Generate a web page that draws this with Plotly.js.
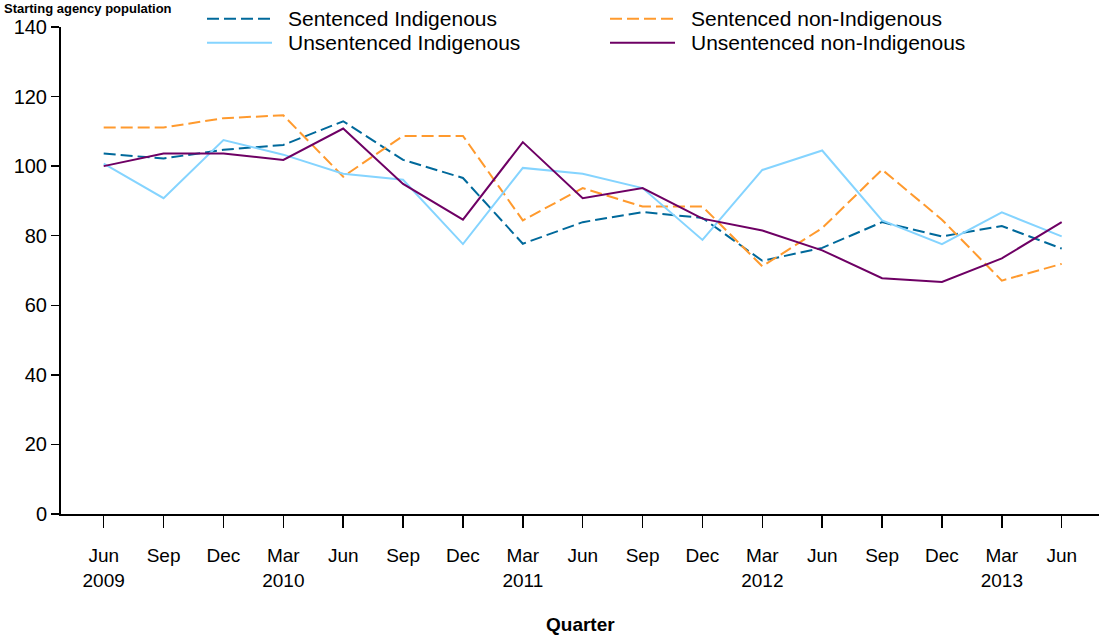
<!DOCTYPE html>
<html><head><meta charset="utf-8">
<script src="https://cdn.plot.ly/plotly-3.0.1.min.js"></script>
<style>html,body{margin:0;padding:0;background:#fff;overflow:hidden}</style>
</head><body><div id="chart" style="width:1099px;height:639px"></div>
<script>
const quarters = ['Jun 2009','Sep 2009','Dec 2009','Mar 2010','Jun 2010','Sep 2010','Dec 2010','Mar 2011','Jun 2011','Sep 2011','Dec 2011','Mar 2012','Jun 2012','Sep 2012','Dec 2012','Mar 2013','Jun 2013'];
const tickLabels = ['Jun<br>2009','Sep','Dec','Mar<br>2010','Jun','Sep','Dec','Mar<br>2011','Jun','Sep','Dec','Mar<br>2012','Jun','Sep','Dec','Mar<br>2013','Jun'];
const sentencedIndigenous = [103.6, 102.2, 104.7, 106.1, 112.9, 101.8, 96.6, 77.7, 83.9, 86.8, 85.1, 72.8, 76.5, 83.9, 79.8, 82.8, 76.3];
const sentencedNonIndigenous = [111.1, 111.1, 113.8, 114.6, 97.0, 108.7, 108.7, 84.4, 93.7, 88.4, 88.4, 71.2, 82.2, 99.0, 84.6, 67.1, 71.9];
const unsentencedIndigenous = [100.7, 90.8, 107.5, 103.3, 97.8, 96.1, 77.6, 99.5, 97.8, 93.7, 78.8, 98.9, 104.5, 84.4, 77.6, 86.7, 79.8];
const unsentencedNonIndigenous = [100.0, 103.6, 103.6, 101.8, 110.8, 94.9, 84.6, 106.9, 90.8, 93.7, 84.9, 81.5, 75.8, 67.8, 66.7, 73.5, 83.9];
const seriesNames = ['Sentenced Indigenous','Sentenced non-Indigenous','Unsentenced Indigenous','Unsentenced non-Indigenous'];
const yTicks = [0,20,40,60,80,100,120,140];
const chartTitle = 'Starting agency population';

const FONT = 'Liberation Sans, Arial, sans-serif';
const styles = [
  {color:'#00699B', dash:'12px,5px'},
  {color:'#FF9A2E', dash:'12px,5px'},
  {color:'#85D4FF', dash:'solid'},
  {color:'#6E0064', dash:'solid'}
];
const seriesData = [sentencedIndigenous, sentencedNonIndigenous, unsentencedIndigenous, unsentencedNonIndigenous];

const traces = seriesData.map((ys, i) => ({
  type:'scatter', mode:'lines', x: quarters, y: ys, name: seriesNames[i],
  line:{color:styles[i].color, width:2, dash:styles[i].dash},
  showlegend:false, hoverinfo:'x+y+name'
}));

// legend (manual, to match long line samples)
const W = 1038, H = 487, L = 61, T = 27.3;
const px = v => (v - L) / W;
const py = v => (T + H - v) / H;
const legendPos = [
  {x0:207, x1:272, tx:286, y:19},
  {x0:610, x1:675, tx:689, y:19},
  {x0:207, x1:272, tx:286, y:43},
  {x0:610, x1:675, tx:689, y:43}
];
const shapes = legendPos.map((p, i) => ({
  type:'line', xref:'paper', yref:'paper', x0:px(p.x0), x1:px(p.x1), y0:py(p.y), y1:py(p.y),
  line:{color:styles[i].color, width:2, dash:styles[i].dash}
}));
const annotations = legendPos.map((p, i) => ({
  xref:'paper', yref:'paper', x:px(p.tx), y:py(p.y), xanchor:'left', yanchor:'middle',
  text: seriesNames[i], showarrow:false, font:{family:FONT, size:21, color:'#000'}
}));
annotations.push({
  xref:'paper', yref:'paper', x:0.5, y:py(625), xanchor:'center', yanchor:'middle',
  text:'Quarter', showarrow:false, font:{family:FONT, size:19, color:'#000', weight:'bold'}
});
// chart title at the top-left corner
annotations.push({
  xref:'paper', yref:'paper', x:px(3), y:py(9), xanchor:'left', yanchor:'middle', borderpad:0,
  text: chartTitle, showarrow:false, font:{family:FONT, size:13, color:'#000', weight:'bold'}
});

const layout = {
  width:1099, height:639,
  margin:{l:61, r:0, t:27.3, b:124.7, pad:0},
  paper_bgcolor:'#fff', plot_bgcolor:'#fff',
  font:{family:FONT, size:18, color:'#000'},
  showlegend:false,
  xaxis:{
    type:'category', range:[-0.713, 16.623], tickvals: quarters, ticktext: tickLabels,
    showgrid:false, zeroline:false, showline:true, linecolor:'#000', linewidth:2,
    ticks:'outside', ticklen:12, tickwidth:1.5, tickcolor:'#000',
    ticklabelstandoff:11, tickfont:{family:FONT, size:19, color:'#000'}, fixedrange:true
  },
  yaxis:{
    range:[0,140], tickvals: yTicks, ticktext: yTicks.map(String),
    showgrid:false, zeroline:false, showline:true, linecolor:'#000', linewidth:2,
    ticks:'outside', ticklen:8, tickwidth:1.5, tickcolor:'#000',
    ticklabelstandoff:0, tickfont:{family:FONT, size:20, color:'#000'}, fixedrange:true
  },
  shapes: shapes,
  annotations: annotations
};

Plotly.newPlot('chart', traces, layout, {displayModeBar:false, staticPlot:true});
</script></body></html>
